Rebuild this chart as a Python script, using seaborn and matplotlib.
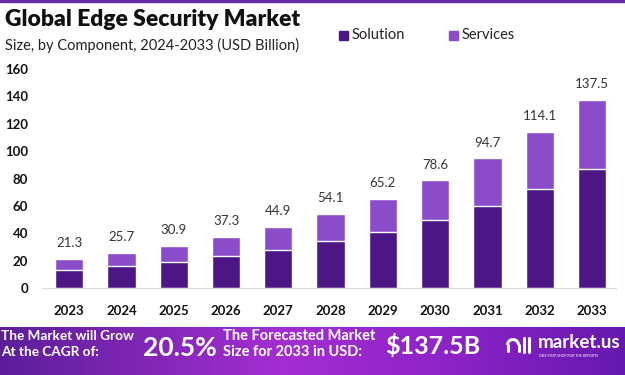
#! /usr/bin/env python
"""
Global Edge Security Market, stacked bars by component
"""

import numpy as np
import pandas as pd
import seaborn as sns
import matplotlib.pyplot as plt
from matplotlib.patches import Arc
from matplotlib.lines import Line2D

YEARS = ["2023", "2024", "2025", "2026", "2027", "2028", "2029", "2030", "2031", "2032", "2033"]
TOTAL = [21.3, 25.7, 30.9, 37.3, 44.9, 54.1, 65.2, 78.6, 94.7, 114.1, 137.5]
SOLUTION = [12.8, 15.8, 19.0, 23.1, 28.0, 34.0, 41.1, 49.6, 59.6, 72.0, 87.3]
Y_TICKS = [0, 20, 40, 60, 80, 100, 120, 140, 160]

SOLUTION_COLOR = "#4c1784"
SERVICES_COLOR = "#8a4cc9"

sns.set_style("white")
plt.rcParams["font.family"] = ["Lato", "DejaVu Sans"]

df = pd.DataFrame({"Year": YEARS, "Total": TOTAL, "Solution": SOLUTION})

fig = plt.figure(figsize=(6.25, 3.75), dpi=100)
W, H = 625, 375

# main plot area
ax = fig.add_axes([42 / W, (H - 288) / H, (616 - 42) / W, 219 / H])
sns.barplot(data=df, x="Year", y="Total", color=SERVICES_COLOR, width=0.54,
            saturation=1, ax=ax)
sns.barplot(data=df, x="Year", y="Solution", color=SOLUTION_COLOR, width=0.54,
            saturation=1, ax=ax)
ax.set_xlim(-0.52, 10.46)
ax.set_ylim(0, 160)
ax.set_yticks(Y_TICKS)
ax.set_xlabel("")
ax.set_ylabel("")
sns.despine(ax=ax, left=True)
ax.spines["bottom"].set_color("#dcdcdc")
ax.tick_params(axis="both", length=0)
ax.tick_params(axis="x", pad=12)
ax.tick_params(axis="y", pad=10)
for lbl in ax.get_xticklabels() + ax.get_yticklabels():
    lbl.set_fontweight("bold")
    lbl.set_fontsize(9.5)
    lbl.set_color("#111111")

for i, v in enumerate(TOTAL):
    ax.annotate(f"{v}", (i, v), xytext=(0, 7), textcoords="offset points",
                ha="center", va="bottom", fontsize=9.5, color="#333333")

# header
fig.text(5 / W, 1 - 20 / H, "Global Edge Security Market", fontsize=16.5,
         fontweight="heavy", color="#111111", va="center")
fig.text(5 / W, 1 - 45 / H, "Size, by Component, 2024-2033 (USD Billion)",
         fontsize=10.5, color="#222222", va="center")
for x0, name, col in [(339, "Solution", SOLUTION_COLOR), (449, "Services", SERVICES_COLOR)]:
    fig.patches.append(plt.Rectangle((x0 / W, 1 - 40 / H), 9 / W, 9 / H,
                                     transform=fig.transFigure, color=col))
    fig.text((x0 + 13) / W, 1 - 35 / H, name, fontsize=10.5, color="#222222",
             va="center")

# top border line
fig.patches.append(plt.Rectangle((0, 1 - 2 / H), 1, 2 / H,
                                 transform=fig.transFigure, color="#6a2aa8"))

# bottom banner with horizontal gradient
bax = fig.add_axes([0, 0, 1, 48 / H])
stops_x = [0.0, 0.45, 0.7, 1.0]
stops_c = [(0.36, 0.12, 0.60), (0.64, 0.18, 0.82), (0.56, 0.14, 0.78), (0.40, 0.10, 0.68)]
xs = np.linspace(0, 1, 300)
grad = np.stack([np.interp(xs, stops_x, [c[k] for c in stops_c]) for k in range(3)], axis=-1)
bax.imshow(grad[np.newaxis, :, :], aspect="auto", extent=(0, 1, 0, 1))
bax.set_xlim(0, 1)
bax.set_ylim(0, 1)
bax.axis("off")


def btext(x, y, s, size, **kw):
    fig.text(x / W, 1 - y / H, s, fontsize=size, fontweight="bold", color="white",
             va="center", **kw)


btext(1, 336, "The Market will Grow", 9.8)
btext(1, 352, "At the CAGR of:", 9.8)
btext(143, 348, "20.5%", 19)
btext(223, 336, "The Forecasted Market", 10.5)
btext(223, 352, "Size for 2033 in USD:", 10.5)
btext(385, 346, "$137.5B", 18)
btext(538, 343, "market.us", 13.5)
fig.text(539 / W, 1 - 356 / H, "ONE STOP SHOP FOR THE REPORTS", fontsize=2.5,
         color="white", va="center")

# simple logo mark
def px(x, y):
    return x / W, 1 - y / H

fig.add_artist(Arc(px(513, 345), 11 / W, 11 / H, theta1=0, theta2=180,
                   transform=fig.transFigure, color="white", lw=2.2))
for x, y0, y1 in [(507.5, 345, 351), (518.5, 345, 351), (524, 338, 352), (529, 338, 352)]:
    fig.add_artist(Line2D([x / W, x / W], [1 - y0 / H, 1 - y1 / H],
                          transform=fig.transFigure, color="white", lw=2.2,
                          solid_capstyle="round"))

fig.savefig("out.png", dpi=100)
